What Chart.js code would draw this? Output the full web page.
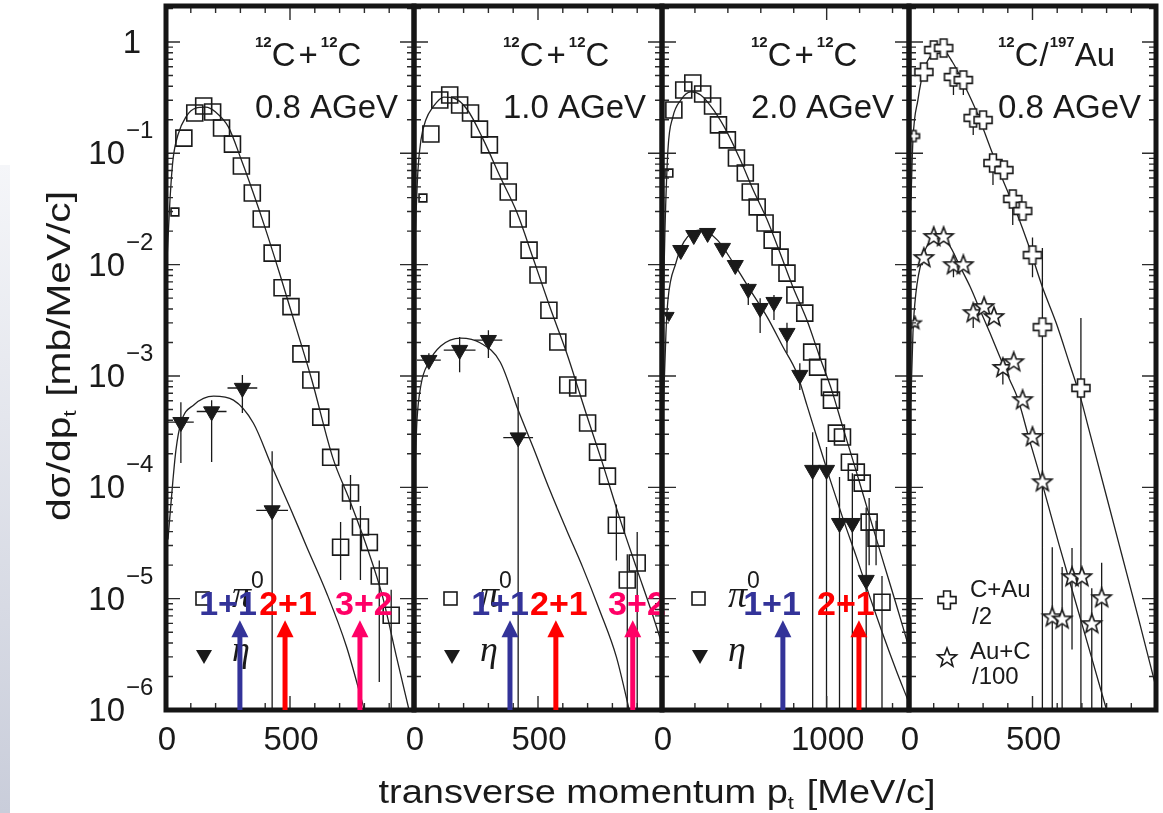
<!DOCTYPE html>
<html>
<head>
<meta charset="utf-8">
<title>pi0 and eta transverse momentum spectra</title>
<script src="https://cdn.jsdelivr.net/npm/chart.js@4.4.1/dist/chart.umd.min.js"></script>
<style>
  html, body { margin: 0; padding: 0; background: #fff; }
  #page { position: relative; width: 1163px; height: 813px; overflow: hidden; background: #fff; }
  #strip { position: absolute; left: 0; top: 165px; width: 10px; height: 648px;
           background: linear-gradient(to bottom, #f5f6f9, #c9cdda); }
  canvas { position: absolute; left: 0; top: 0; }
</style>
</head>
<body>
<div id="page">
  <div id="strip"></div>
  <canvas id="c08" width="1163" height="813"></canvas>
  <canvas id="c10" width="1163" height="813"></canvas>
  <canvas id="c20" width="1163" height="813"></canvas>
  <canvas id="cau" width="1163" height="813"></canvas>
</div>
<script>
// ---- 12C+12C, 0.8 AGeV ----
const pi0X_c08 = [36, 72, 116, 152, 188, 224, 268, 304, 348, 384, 428, 468, 504, 544, 584, 624, 664, 704, 744, 784, 820, 860, 908];
const pi0Y_c08 = [0.0297, 0.137, 0.23, 0.266, 0.235, 0.169, 0.121, 0.0769, 0.044, 0.0257, 0.0127, 0.0062, 0.0042, 0.00158,
                  0.00092, 4.27e-4, 1.86e-4, 2.9e-5, 8.9e-5, 4.4e-5, 3.2e-5, 1.6e-5, 7.1e-6];
const pi0Err_c08 = [[704, 1.47e-5, 4.87e-5], [744, 6.3e-5, 1.29e-4], [784, 1.47e-5, 6.78e-5], [860, 1.78e-6, 2.2e-5], [908, 1e-6, 1.2e-5]];
const etaX_c08 = [60, 184, 308, 428];
const etaY_c08 = [3.85e-4, 4.8e-4, 7.8e-4, 6.2e-5];
const etaXErr_c08 = [52, 60, 60, 64];
const etaErr_c08 = [[60, 1.65e-4, 5.8e-4], [184, 1.69e-4, 6.07e-4], [308, 4.64e-4, 1.02e-3], [428, 1e-6, 2.11e-4]];
const fitPi0X_c08 = [4, 16, 28, 48, 80, 120, 160, 200, 252, 304, 352, 400, 460, 524, 588, 672, 740, 808, 872, 928, 980];
const fitPi0Y_c08 = [0.011, 0.038, 0.087, 0.146, 0.212, 0.255, 0.26, 0.235, 0.172, 0.087, 0.044, 0.0213, 0.00807, 0.00275,
                     9.2e-4, 1.86e-4, 7.7e-5, 3.0e-5, 1.07e-5, 3.1e-6, 1e-6];
const fitEtaX_c08 = [8, 28, 40, 60, 112, 192, 272, 352, 428, 500, 568, 648, 728, 800];
const fitEtaY_c08 = [3.4e-5, 1.16e-4, 2.16e-4, 3.78e-4, 5.5e-4, 6.6e-4, 6.07e-4, 3.78e-4, 1.52e-4, 6.6e-5, 2.9e-5, 1.12e-5, 3.7e-6, 1e-6];
const thrX_c08 = [298, 480, 782];
const thrLabelX_c08 = [250, 492, 798];

// ---- 12C+12C, 1.0 AGeV ----
const pi0X_c10 = [36, 68, 104, 144, 184, 228, 264, 304, 344, 380, 420, 464, 500, 544, 580, 620, 660, 700, 740, 780, 816, 860, 900];
const pi0Y_c10 = [0.0397, 0.149, 0.301, 0.334, 0.272, 0.23, 0.165, 0.119, 0.0693, 0.0449, 0.0257, 0.0135, 0.00807, 0.0039,
                  0.00202, 8.3e-4, 7.8e-4, 3.78e-4, 2.07e-4, 1.26e-4, 4.57e-5, 1.47e-5, 2.09e-5];
const pi0Err_c10 = [[816, 2.2e-5, 7e-5], [860, 1e-6, 2.5e-5], [900, 1e-6, 3.96e-5]];
const etaX_c10 = [60, 184, 300, 420];
const etaY_c10 = [1.39e-3, 1.71e-3, 2.1e-3, 2.8e-4];
const etaXErr_c10 = [48, 64, 56, 60];
const etaErr_c10 = [[60, 1.2e-3, 1.6e-3], [184, 1.08e-3, 2.24e-3], [300, 1.45e-3, 2.58e-3], [420, 1e-6, 6.46e-4]];
const fitPi0X_c10 = [4, 16, 28, 48, 76, 120, 160, 216, 280, 348, 416, 480, 548, 616, 668, 696, 760, 828, 896, 960, 1000];
const fitPi0Y_c10 = [0.0166, 0.0708, 0.132, 0.2, 0.26, 0.32, 0.314, 0.245, 0.132, 0.0612, 0.0291, 0.01146, 0.00416, 0.0016,
                     7.0e-4, 4.46e-4, 1.65e-4, 5.4e-5, 1.92e-5, 7.4e-6, 3.9e-6];
const fitEtaX_c10 = [4, 12, 28, 60, 108, 188, 268, 348, 420, 480, 548, 616, 680, 748, 816, 868];
const fitEtaY_c10 = [1.43e-4, 4.0e-4, 8.3e-4, 1.33e-3, 1.86e-3, 2.19e-3, 1.98e-3, 1.33e-3, 4.94e-4, 2.3e-4, 9.4e-5, 4.1e-5,
                     1.92e-5, 7.9e-6, 3.0e-6, 1e-6];
const thrX_c10 = [387, 572, 882];
const thrLabelX_c10 = [347, 584, 899];

// ---- 12C+12C, 2.0 AGeV ----
const pi0X_c20 = [42, 72, 132, 187, 247, 307, 343, 397, 452, 506, 536, 578, 626, 669, 717, 759, 807, 867, 909, 945,
                  1017, 1029, 1059, 1096, 1138, 1180, 1216, 1258, 1300, 1336];
const pi0Y_c20 = [0.0665, 0.245, 0.37, 0.428, 0.341, 0.266, 0.18, 0.132, 0.0908, 0.0665, 0.0449, 0.033, 0.0237, 0.0166,
                  0.0117, 0.0084, 0.00533, 0.00367, 0.00164, 0.0012, 7.9e-4, 6.07e-4, 3.07e-4, 2.83e-4, 1.68e-4, 1.37e-4,
                  1.09e-4, 4.87e-5, 3.5e-5, 9.3e-6];
const pi0Err_c20 = [[1258, 2.0e-5, 8e-5], [1300, 2.0e-5, 5e-5], [1336, 1e-6, 1.6e-5]];
const etaX_c20 = [42, 114, 193, 277, 367, 445, 524, 596, 680, 759, 837, 915, 999, 1078, 1156, 1240];
const etaY_c20 = [3.5e-3, 0.0135, 0.0184, 0.0192, 0.0141, 0.0099, 6.04e-3, 4.07e-3, 4.61e-3, 2.43e-3, 1.02e-3, 1.43e-4,
                  1.43e-4, 4.77e-5, 4.77e-5, 1.47e-5];
const etaErr_c20 = [[524, 4.34e-3, 6.84e-3], [596, 2.43e-3, 5.0e-3], [680, 3.18e-3, 5.33e-3], [759, 1.6e-3, 3.0e-3],
                    [837, 7.5e-4, 1.3e-3], [915, 1e-6, 3.13e-4], [999, 1e-6, 2.3e-4], [1078, 1e-6, 1.24e-4],
                    [1156, 1e-6, 1.34e-4], [1240, 1e-6, 6.6e-5]];
const fitPi0X_c20 = [10, 18, 36, 66, 114, 175, 235, 313, 398, 476, 554, 639, 717, 795, 880, 958, 1030, 1096, 1181, 1259, 1337, 1422, 1494];
const fitPi0Y_c20 = [0.006, 0.0205, 0.107, 0.212, 0.301, 0.356, 0.334, 0.245, 0.152, 0.087, 0.0468, 0.0252, 0.0127, 0.0063,
                     0.00318, 0.00148, 7.5e-4, 3.55e-4, 1.37e-4, 5.6e-5, 2.31e-5, 8.9e-6, 3.9e-6];
const fitEtaX_c20 = [6, 24, 36, 84, 133, 235, 337, 434, 536, 639, 735, 819, 880, 940, 1018, 1096, 1181, 1259, 1337, 1422, 1494];
const fitEtaY_c20 = [4.0e-4, 2.43e-3, 4.81e-3, 0.0103, 0.016, 0.0205, 0.0166, 0.0103, 5.91e-3, 3.38e-3, 1.82e-3, 1.06e-3,
                     5.48e-4, 2.83e-4, 1.21e-4, 5.4e-5, 2.36e-5, 1.07e-5, 5.0e-6, 2.28e-6, 1.22e-6];
const thrX_c20 = [734, 1196];
const thrLabelX_c20 = [668, 1117];

// ---- 12C/197Au, 0.8 AGeV ----
const cauX = [20, 60, 100, 140, 180, 220, 260, 300, 340, 384, 420, 460, 500, 540, 696];
const cauY = [0.143, 0.537, 0.848, 0.883, 0.485, 0.456, 0.208, 0.199, 0.0818, 0.0708, 0.0389, 0.0303, 0.0122, 0.00275, 7.8e-4];
const cauErr = [[180, 0.334, 0.55], [220, 0.334, 0.5], [260, 0.146, 0.23], [340, 0.052, 0.09], [420, 0.0227, 0.042],
                [500, 7.7e-3, 0.0175], [540, 1e-6, 0.0141], [696, 1e-6, 3.31e-3]];
const aucX = [24, 60, 100, 140, 180, 220, 260, 304, 344, 380, 424, 460, 500, 540, 580, 620, 660, 700, 740, 780];
const aucY = [2.99e-3, 0.01146, 0.0177, 0.0177, 0.0099, 0.0099, 0.00367, 0.00416, 0.00338, 0.00118, 0.00133, 6.07e-4,
              2.83e-4, 1.11e-4, 6.8e-6, 6.5e-6, 1.56e-5, 1.56e-5, 5.9e-6, 1.01e-5];
const aucErr = [[180, 7.7e-3, 0.011], [260, 2.7e-3, 0.004], [380, 8.4e-4, 0.0013], [580, 1e-6, 2.9e-5], [620, 1e-6, 1.92e-5],
                [660, 3.5e-6, 2.85e-5], [740, 1e-6, 1.24e-5], [780, 1e-6, 2.1e-5]];
const fitCauX = [8, 16, 36, 60, 100, 136, 176, 220, 276, 328, 380, 436, 488, 540, 596, 648, 696, 728, 796, 860, 928, 1000];
const fitCauY = [0.038, 0.132, 0.301, 0.56, 0.797, 0.848, 0.661, 0.428, 0.23, 0.114, 0.0575, 0.0291, 0.0141, 0.0063,
                 0.00299, 0.00133, 6.2e-4, 3.33e-4, 8.9e-5, 2.56e-5, 6.8e-6, 1.6e-6];
const fitAucX = [8, 16, 28, 56, 88, 128, 168, 208, 248, 288, 328, 368, 408, 440, 488, 540, 608, 676, 740, 800];
const fitAucY = [6.07e-4, 2.43e-3, 5.56e-3, 0.0117, 0.0166, 0.0181, 0.0144, 9.5e-3, 6.3e-3, 3.9e-3, 2.43e-3, 1.48e-3,
                 9.2e-4, 6.3e-4, 2.65e-4, 1.07e-4, 3.03e-5, 9.1e-6, 2.92e-6, 1e-6];

const thrText = ['1+1', '2+1', '3+2'];
const thrColor = ['#333399', '#ff0000', '#ff0066'];

// layout
const W = 1163, H = 813;
const edges = [166, 414, 662, 909, 1156];
const TOP = 6, BOTTOM = 710;
const Y_MIN = 1e-6, Y_MAX = 2.105;
const ARROW_TIP = 6.4e-6;     // arrow heads end here
const ARROW_TEXT = 7.1e-6;    // baseline of the coloured labels
const FONT = '"Liberation Sans", Arial, Helvetica, sans-serif';
const SERIF = '"Liberation Serif", "Times New Roman", serif';
const INK = '#1a1a1a';

function pts(xs, ys) { return xs.map((x, i) => ({ x: x, y: ys[i] })); }

function makeMarker(kind, size) {
  const s = Math.ceil(size + 4);
  const c = document.createElement('canvas');
  c.width = s; c.height = s;
  const g = c.getContext('2d');
  g.translate(s / 2, s / 2);
  g.beginPath();
  if (kind === 'cross') {
    const r = size / 2, h = size * 0.19;
    g.moveTo(-h, -r); g.lineTo(h, -r); g.lineTo(h, -h); g.lineTo(r, -h); g.lineTo(r, h); g.lineTo(h, h);
    g.lineTo(h, r); g.lineTo(-h, r); g.lineTo(-h, h); g.lineTo(-r, h); g.lineTo(-r, -h); g.lineTo(-h, -h);
  } else {
    for (let i = 0; i < 10; i++) {
      const a = -Math.PI / 2 + i * Math.PI / 5;
      const r = i % 2 ? size * 0.21 : size / 2;
      if (i === 0) g.moveTo(r * Math.cos(a), r * Math.sin(a)); else g.lineTo(r * Math.cos(a), r * Math.sin(a));
    }
  }
  g.closePath();
  g.fillStyle = '#fff'; g.fill();
  g.lineWidth = 1.6; g.strokeStyle = INK; g.stroke();
  return c;
}
const crossBig = makeMarker('cross', 18), crossSmall = makeMarker('cross', 11);
const starBig = makeMarker('star', 20), starSmall = makeMarker('star', 13);

function squares(xs, ys, err) {
  return { data: pts(xs, ys), errBars: err, pointStyle: 'rect', borderColor: INK, backgroundColor: 'rgba(0,0,0,0)',
           pointBorderWidth: 1.6, pointRadius: xs.map((x, i) => i === 0 ? 5.5 : 11.3), showLine: false };
}
function triangles(xs, ys, err, xerr) {
  return { data: pts(xs, ys), errBars: err, xErr: xerr, pointStyle: 'triangle', pointRotation: 180,
           borderColor: INK, backgroundColor: INK, pointBorderWidth: 1,
           pointRadius: xs.map((x, i) => i === 0 && xs.length > 4 ? 6 : 9.3), showLine: false };
}
function images(xs, ys, err, big, small) {
  return { data: pts(xs, ys), errBars: err, pointStyle: xs.map((x, i) => i === 0 ? small : big),
           borderColor: INK, backgroundColor: '#fff', showLine: false };
}
function fit(xs, ys) {
  return { data: pts(xs, ys), showLine: true, pointRadius: 0, borderColor: '#222', borderWidth: 1.3,
           cubicInterpolationMode: 'monotone', fill: false };
}

const sup = (t) => ({ t: t, size: 15, bold: true, dy: -19 });
const big = (t, gap) => ({ t: t, size: 33, gap: gap || 0 });

const panels = [
  { id: 'c08', xMax: 1000, minorStep: 100, majorStep: 500, xLabels: [0, 500], energy: '0.8 AGeV',
    system: [sup('12'), big('C', 3), big('+', 3), sup('12'), big('C')], legend: 'meson',
    thrX: thrX_c08, thrLabelX: thrLabelX_c08,
    datasets: [squares(pi0X_c08, pi0Y_c08, pi0Err_c08), triangles(etaX_c08, etaY_c08, etaErr_c08, etaXErr_c08),
               fit(fitPi0X_c08, fitPi0Y_c08), fit(fitEtaX_c08, fitEtaY_c08)] },
  { id: 'c10', xMax: 1000, minorStep: 100, majorStep: 500, xLabels: [0, 500], energy: '1.0 AGeV',
    system: [sup('12'), big('C', 3), big('+', 3), sup('12'), big('C')], legend: 'meson',
    thrX: thrX_c10, thrLabelX: thrLabelX_c10,
    datasets: [squares(pi0X_c10, pi0Y_c10, pi0Err_c10), triangles(etaX_c10, etaY_c10, etaErr_c10, etaXErr_c10),
               fit(fitPi0X_c10, fitPi0Y_c10), fit(fitEtaX_c10, fitEtaY_c10)] },
  { id: 'c20', xMax: 1500, minorStep: 200, majorStep: 1000, xLabels: [0, 1000], energy: '2.0 AGeV',
    system: [sup('12'), big('C', 3), big('+', 3), sup('12'), big('C')], legend: 'meson',
    thrX: thrX_c20, thrLabelX: thrLabelX_c20,
    datasets: [squares(pi0X_c20, pi0Y_c20, pi0Err_c20), triangles(etaX_c20, etaY_c20, etaErr_c20, null),
               fit(fitPi0X_c20, fitPi0Y_c20), fit(fitEtaX_c20, fitEtaY_c20)] },
  { id: 'cau', xMax: 1000, minorStep: 100, majorStep: 500, xLabels: [0, 500], energy: '0.8 AGeV',
    system: [sup('12'), big('C', 1), big('/', 1), sup('197'), big('Au')], legend: 'gold',
    thrX: [], thrLabelX: [],
    datasets: [images(cauX, cauY, cauErr, crossBig, crossSmall), images(aucX, aucY, aucErr, starBig, starSmall),
               fit(fitCauX, fitCauY), fit(fitAucX, fitAucY)] }
];

// text helpers: a run is a list of pieces with their own size / offset
function fontOf(p) {
  return (p.italic ? 'italic ' : '') + (p.bold ? 'bold ' : '') + p.size + 'px ' + (p.serif ? SERIF : FONT);
}
function runWidth(ctx, parts) {
  let w = 0;
  parts.forEach(p => { ctx.font = fontOf(p); w += ctx.measureText(p.t).width + (p.gap || 0); });
  return w;
}
function drawRun(ctx, parts, x, y) {
  let cx = x;
  parts.forEach(p => {
    ctx.font = fontOf(p);
    ctx.fillText(p.t, cx, y + (p.dy || 0));
    cx += ctx.measureText(p.t).width + (p.gap || 0);
  });
}
function drawFitted(ctx, parts, cx, cy, length, angle) {
  ctx.save();
  ctx.translate(cx, cy);
  ctx.rotate(angle);
  ctx.textAlign = 'left';
  ctx.textBaseline = 'alphabetic';
  const w = runWidth(ctx, parts);
  ctx.scale(length / w, 1);
  drawRun(ctx, parts, -w / 2, 0);
  ctx.restore();
}

function drawErrors(chart) {
  const { ctx, chartArea: a } = chart;
  const xs = chart.scales.x, ys = chart.scales.y;
  ctx.save();
  ctx.beginPath();
  ctx.rect(a.left, a.top, a.right - a.left, a.bottom - a.top);
  ctx.clip();
  ctx.strokeStyle = INK;
  ctx.lineWidth = 1.3;
  ctx.beginPath();
  chart.data.datasets.forEach(ds => {
    (ds.errBars || []).forEach(([x, lo, hi]) => {
      const px = xs.getPixelForValue(x);
      ctx.moveTo(px, ys.getPixelForValue(lo));
      ctx.lineTo(px, ys.getPixelForValue(hi));
    });
    if (ds.xErr) {
      ds.data.forEach((pt, i) => {
        const py = ys.getPixelForValue(pt.y);
        ctx.moveTo(xs.getPixelForValue(pt.x - ds.xErr[i]), py);
        ctx.lineTo(xs.getPixelForValue(pt.x + ds.xErr[i]), py);
      });
    }
  });
  ctx.stroke();
  ctx.restore();
}

function drawFrame(chart, p) {
  const { ctx, chartArea: a } = chart;
  const xs = chart.scales.x, ys = chart.scales.y;
  ctx.save();
  ctx.strokeStyle = '#2b2b2b';
  ctx.lineWidth = 1.4;
  ctx.beginPath();
  for (let e = -6; e <= 0; e++) {
    for (let k = 1; k <= 9; k++) {
      const v = k * Math.pow(10, e);
      if (v > Y_MAX) continue;
      const py = ys.getPixelForValue(v);
      const len = k === 1 ? 14 : 7;
      ctx.moveTo(a.left, py); ctx.lineTo(a.left + len, py);
      ctx.moveTo(a.right, py); ctx.lineTo(a.right - len, py);
    }
  }
  for (let v = p.minorStep; v < p.xMax; v += p.minorStep) {
    const px = xs.getPixelForValue(v);
    const len = v % p.majorStep === 0 ? 14 : 7;
    ctx.moveTo(px, a.top); ctx.lineTo(px, a.top + len);
    ctx.moveTo(px, a.bottom); ctx.lineTo(px, a.bottom - len);
  }
  ctx.stroke();
  ctx.lineWidth = 5;
  ctx.strokeStyle = '#151515';
  ctx.strokeRect(a.left, a.top, a.right - a.left, a.bottom - a.top);

  // tick labels under the panel
  ctx.fillStyle = INK;
  ctx.font = '33px ' + FONT;
  ctx.textAlign = 'center';
  ctx.textBaseline = 'alphabetic';
  p.xLabels.forEach(v => ctx.fillText(String(v), xs.getPixelForValue(v) + 1, 750));
  ctx.restore();
}

function drawPanelText(chart, p) {
  const { ctx, chartArea: a } = chart;
  ctx.save();
  ctx.fillStyle = INK;
  ctx.textAlign = 'left';
  ctx.textBaseline = 'alphabetic';
  drawRun(ctx, p.system, a.left + 89, 66);
  ctx.font = '33px ' + FONT;
  ctx.fillText(p.energy, a.left + 89, 118);

  const lx = a.left;
  if (p.legend === 'meson') {
    ctx.strokeStyle = INK;
    ctx.lineWidth = 1.6;
    ctx.strokeRect(lx + 30, 592, 13, 13);
    ctx.beginPath();
    ctx.moveTo(lx + 30, 650); ctx.lineTo(lx + 46, 650); ctx.lineTo(lx + 38, 664); ctx.closePath();
    ctx.fill();
    drawRun(ctx, [{ t: '\u03c0', size: 38, italic: true, serif: true }], lx + 66, 607);
    drawRun(ctx, [{ t: '0', size: 23 }], lx + 85, 588);
    drawRun(ctx, [{ t: '\u03b7', size: 36, italic: true, serif: true }], lx + 66, 661);
  } else {
    ctx.drawImage(crossBig, lx + 38 - crossBig.width / 2, 600 - crossBig.height / 2);
    ctx.drawImage(starBig, lx + 38 - starBig.width / 2, 658 - starBig.height / 2);
    ctx.font = '24px ' + FONT;
    ctx.fillText('C+Au', lx + 61, 597);
    ctx.fillText('/2', lx + 63, 624);
    ctx.fillText('Au+C', lx + 61, 659);
    ctx.fillText('/100', lx + 63, 684);
  }
  ctx.restore();
}

function drawThresholds(chart, p) {
  const { ctx, chartArea: a } = chart;
  const xs = chart.scales.x, ys = chart.scales.y;
  const tip = ys.getPixelForValue(ARROW_TIP);
  const base = ys.getPixelForValue(ARROW_TEXT);
  ctx.save();
  p.thrX.forEach((x, i) => {
    const px = xs.getPixelForValue(x);
    ctx.strokeStyle = ctx.fillStyle = thrColor[i];
    ctx.lineWidth = 5;
    ctx.beginPath();
    ctx.moveTo(px, a.bottom);
    ctx.lineTo(px, tip + 14);
    ctx.stroke();
    ctx.beginPath();
    ctx.moveTo(px, tip); ctx.lineTo(px + 8.5, tip + 17); ctx.lineTo(px - 8.5, tip + 17); ctx.closePath();
    ctx.fill();
  });
  ctx.font = 'bold 34px ' + FONT;
  ctx.textAlign = 'center';
  ctx.textBaseline = 'alphabetic';
  p.thrLabelX.forEach((x, i) => {
    ctx.fillStyle = thrColor[i];
    ctx.fillText(thrText[i], xs.getPixelForValue(x), base);
  });
  ctx.restore();
}

// axis numbers on the left and both axis titles
function drawAxisText(chart) {
  const ctx = chart.ctx, ys = chart.scales.y;
  ctx.save();
  ctx.fillStyle = INK;
  ctx.textBaseline = 'alphabetic';
  for (let e = 0; e >= -6; e--) {
    const py = ys.getPixelForValue(Math.pow(10, e));
    ctx.font = '33px ' + FONT;
    if (e === 0) {
      ctx.textAlign = 'center';
      ctx.fillText('1', 132, py + 11);
      continue;
    }
    ctx.textAlign = 'right';
    ctx.fillText('10', 125, py + 11);
    ctx.textAlign = 'left';
    ctx.font = '24px ' + FONT;
    ctx.fillText('\u2212' + (-e), 126, py - 15);
  }
  drawFitted(ctx, [{ t: 'd\u03c3/dp', size: 34 }, { t: 't', size: 19, dy: 6, gap: 2 }, { t: ' [mb/MeV/c]', size: 34 }],
             70, 356, 330, -Math.PI / 2);
  drawFitted(ctx, [{ t: 'transverse momentum p', size: 33 }, { t: 't', size: 19, dy: 6, gap: 2 }, { t: ' [MeV/c]', size: 33 }],
             657, 803, 557, 0);
  ctx.restore();
}

panels.forEach((p, i) => {
  new Chart(document.getElementById(p.id), {
    type: 'scatter',
    data: { datasets: p.datasets },
    options: {
      responsive: false,
      animation: false,
      devicePixelRatio: 1,
      events: [],
      layout: { autoPadding: false, padding: { left: edges[i], right: W - edges[i + 1], top: TOP, bottom: H - BOTTOM } },
      scales: {
        x: { type: 'linear', display: false, min: 0, max: p.xMax },
        y: { type: 'logarithmic', display: false, min: Y_MIN, max: Y_MAX }
      },
      plugins: { legend: { display: false }, tooltip: { enabled: false } }
    },
    plugins: [{
      id: 'panelDecor' + i,
      beforeDatasetsDraw(chart) { drawErrors(chart); },
      afterDatasetsDraw(chart) {
        drawFrame(chart, p);
        drawPanelText(chart, p);
        if (i === 0) drawAxisText(chart);
      },
      afterDraw(chart) { drawThresholds(chart, p); }
    }]
  });
});
</script>
</body>
</html>
